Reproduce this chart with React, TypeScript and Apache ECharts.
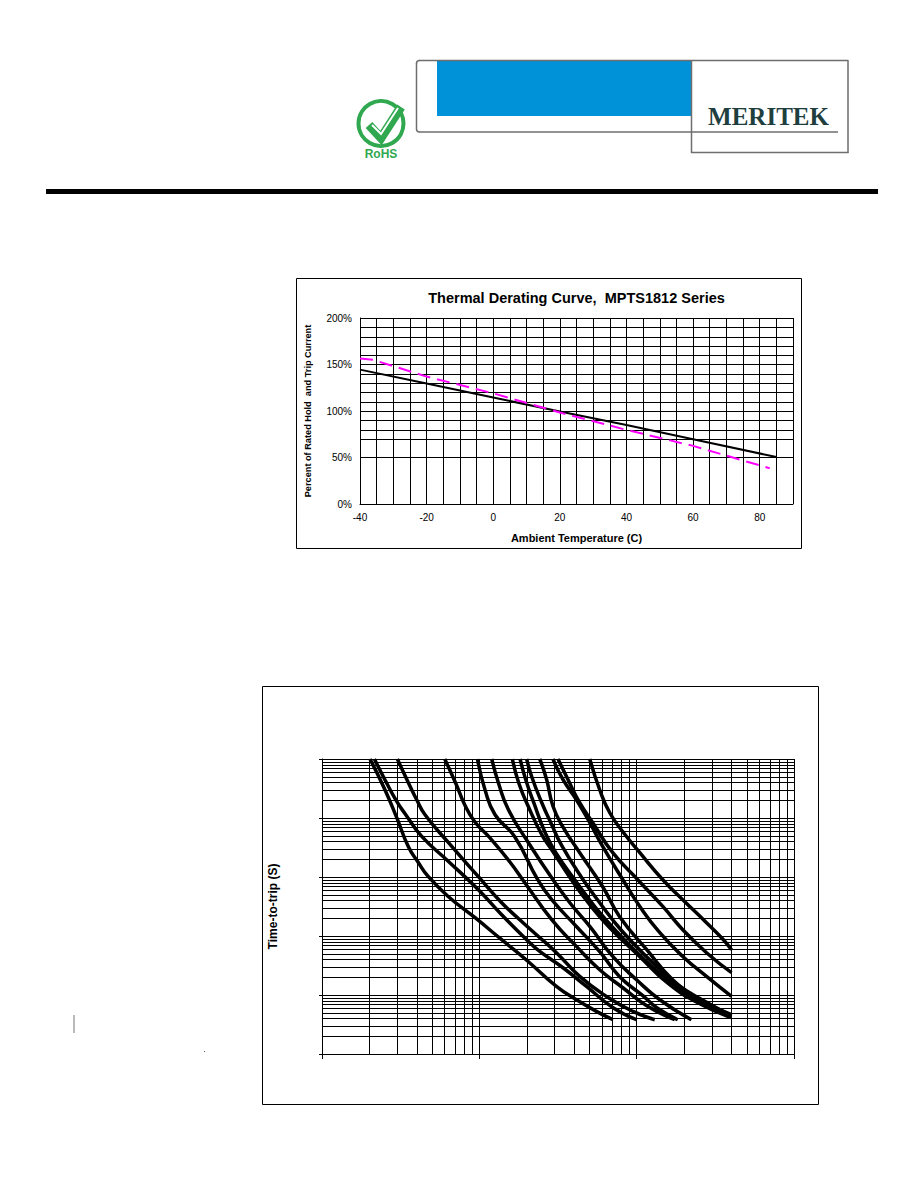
import React, { useEffect, useRef } from "react";
import * as echarts from "echarts";

// ---------- Thermal derating data ----------
const tempHold = [-40, -20, 0, 20, 40, 60, 85];
const holdCurrent = [144.5, 129.6, 114.5, 99.5, 85, 69.7, 50.5];
const tempTrip = [-40, -36, -20, 0, 20, 40, 60, 83];
const tripCurrent = [156.5, 155, 137, 119, 98.4, 79.7, 62.5, 38.4];
const xTickLabels = [-40, -20, 0, 20, 40, 60, 80];
const extraPercentLines = [190, 180, 170, 160, 140, 130, 120, 110, 90, 80, 70];

// ---------- Time-to-trip data: log10(current), log10(time) pairs ----------
const c1x = [-0.695, -0.6, -0.525, -0.451, -0.387, -0.324, -0.196, -0.027, 0.142, 0.312, 0.49, 0.617, 0.744, 0.85];
const c1y = [2, 1.479, 1.005, 0.513, 0.242, 0.005, -0.334, -0.69, -1.063, -1.436, -1.855, -2.08, -2.278, -2.419];
const c2x = [-0.667, -0.6, -0.525, -0.472, -0.366, -0.196, -0.006, 0.142, 0.312, 0.384, 0.532, 0.681, 0.85, 0.999];
const c2y = [2, 1.649, 1.281, 1.073, 0.688, 0.264, -0.216, -0.639, -1.092, -1.261, -1.538, -1.855, -2.216, -2.419];
const c3x = [-0.521, -0.451, -0.398, -0.345, -0.196, -0.006, 0.142, 0.257, 0.363, 0.49, 0.638, 0.808, 0.977, 1.115];
const c3y = [2, 1.598, 1.31, 1.056, 0.581, 0.005, -0.436, -0.724, -0.978, -1.283, -1.685, -2.024, -2.278, -2.419];
const c4x = [-0.22, -0.146, -0.093, -0.029, 0.066, 0.193, 0.289, 0.46, 0.617, 0.765, 0.912, 1.064, 1.242];
const c4y = [2, 1.564, 1.225, 0.937, 0.666, 0.259, -0.097, -0.724, -1.176, -1.572, -1.877, -2.182, -2.419];
const c5x = [-0.012, 0.036, 0.1, 0.225, 0.371, 0.46, 0.617, 0.765, 0.892, 1.039, 1.128, 1.261];
const c5y = [2, 1.479, 1.056, 0.683, -0.046, -0.385, -0.838, -1.266, -1.69, -2.012, -2.216, -2.419];
const c6x = [0.079, 0.121, 0.185, 0.312, 0.468, 0.575, 0.702, 0.848, 0.999, 1.147, 1.348];
const c6y = [2, 1.598, 1.14, 0.581, -0.046, -0.436, -0.838, -1.346, -1.741, -2.08, -2.419];
const c7x = [0.21, 0.25, 0.312, 0.397, 0.46, 0.594, 0.702, 0.829, 1.02, 1.21, 1.401, 1.603];
const c7y = [2, 1.598, 1.191, 0.717, 0.462, -0.08, -0.47, -0.86, -1.351, -1.826, -2.148, -2.385];
const c8x = [0.259, 0.295, 0.346, 0.416, 0.486, 0.625, 0.74, 0.88, 1.051, 1.242, 1.42, 1.603];
const c8y = [2, 1.649, 1.259, 0.767, 0.412, -0.114, -0.521, -0.944, -1.402, -1.843, -2.148, -2.368];
const c9x = [0.301, 0.333, 0.397, 0.46, 0.524, 0.651, 0.765, 0.905, 1.07, 1.261, 1.439, 1.603];
const c9y = [2, 1.7, 1.259, 0.886, 0.53, -0.012, -0.436, -0.911, -1.368, -1.826, -2.114, -2.351];
const c10x = [0.384, 0.428, 0.467, 0.53, 0.638, 0.784, 0.892, 1.064, 1.229, 1.401, 1.603];
const c10y = [2, 1.649, 1.208, 0.852, 0.412, -0.165, -0.673, -1.233, -1.741, -2.08, -2.334];
const c11x = [0.468, 0.532, 0.617, 0.702, 0.784, 0.912, 1.02, 1.147, 1.293, 1.444, 1.603];
const c11y = [2, 1.649, 1.31, 0.92, 0.518, -0.046, -0.499, -0.944, -1.346, -1.685, -2.024];
const c12x = [0.5, 0.564, 0.638, 0.721, 0.848, 1.007, 1.166, 1.293, 1.444, 1.603];
const c12y = [2, 1.649, 1.259, 0.92, 0.412, -0.046, -0.499, -0.894, -1.283, -1.622];
const c13x = [0.702, 0.765, 0.829, 0.912, 1.02, 1.166, 1.293, 1.444, 1.547, 1.603];
const c13y = [2, 1.479, 1.089, 0.767, 0.412, -0.046, -0.385, -0.775, -1.05, -1.233];

const tripCurvesX = [c1x, c2x, c3x, c4x, c5x, c6x, c7x, c8x, c9x, c10x, c11x, c12x, c13x];
const tripCurvesY = [c1y, c2y, c3y, c4y, c5y, c6y, c7y, c8y, c9y, c10y, c11y, c12y, c13y];

const minorMultipliers = [2, 3, 4, 5, 6, 7, 8, 9];
const currentDecades = [0.1, 1, 10];
const timeDecades = [0.001, 0.01, 0.1, 1, 10];

const FONT = "Liberation Sans";

function gridLines(kind: "v" | "h", values: number[], xAxisIndex: number, yAxisIndex: number, other: number) {
  return {
    type: "custom",
    xAxisIndex,
    yAxisIndex,
    silent: true,
    clip: false,
    z: 1,
    animation: false,
    data: values.map((v) => (kind === "v" ? [v, other] : [other, v])),
    renderItem: (params: any, api: any) => {
      const cs = params.coordSys;
      const p = api.coord([api.value(0), api.value(1)]);
      const shape =
        kind === "v"
          ? { x1: Math.round(p[0]) + 0.5, y1: cs.y, x2: Math.round(p[0]) + 0.5, y2: cs.y + cs.height }
          : { x1: cs.x, y1: Math.round(p[1]) + 0.5, x2: cs.x + cs.width, y2: Math.round(p[1]) + 0.5 };
      return { type: "line", shape, style: { stroke: "#000", lineWidth: 1 } };
    },
  };
}

const times = (decades: number[]) =>
  decades.flatMap((d) => minorMultipliers.map((m) => d * m));

function pageGraphics() {
  const grey = "#6e6e6e";
  const green = "#2fa84f";
  const line = (x1: number, y1: number, x2: number, y2: number, stroke = grey, lineWidth = 1.5) => ({
    type: "line",
    shape: { x1, y1, x2, y2 },
    style: { stroke, lineWidth },
    silent: true,
  });
  return [
    { type: "rect", shape: { x: 437, y: 60, width: 255, height: 56 }, style: { fill: "#0092d8" }, silent: true },
    line(419, 60.5, 848, 60.5),
    line(416.5, 63, 416.5, 129),
    line(419, 132, 838, 132),
    { type: "arc", shape: { cx: 419.5, cy: 63.5, r: 3, startAngle: Math.PI, endAngle: Math.PI * 1.5 }, style: { stroke: grey, lineWidth: 1.5, fill: "none" }, silent: true },
    { type: "arc", shape: { cx: 419.5, cy: 129, r: 3, startAngle: Math.PI / 2, endAngle: Math.PI }, style: { stroke: grey, lineWidth: 1.5, fill: "none" }, silent: true },
    line(691.5, 60, 691.5, 153),
    line(691, 152.5, 848.5, 152.5),
    line(848, 60, 848, 153),
    {
      type: "text",
      x: 768.5,
      y: 116,
      style: { text: "MERITEK", font: "bold 25px 'Liberation Serif'", fill: "#1f3f3f", align: "center", verticalAlign: "middle" },
      silent: true,
    },
    { type: "rect", shape: { x: 46, y: 189, width: 832, height: 5 }, style: { fill: "#000" }, silent: true },
    { type: "circle", shape: { cx: 381, cy: 123.5, r: 22.5 }, style: { fill: "#fff", stroke: green, lineWidth: 4 }, silent: true },
    { type: "polyline", shape: { points: [[369, 125], [381, 138], [401, 107]] }, style: { stroke: green, lineWidth: 9, fill: "none" }, silent: true },
    { type: "polyline", shape: { points: [[372, 125], [381, 134], [398, 108]] }, style: { stroke: "#fff", lineWidth: 2, fill: "none" }, silent: true },
    {
      type: "text",
      x: 381,
      y: 154,
      style: { text: "RoHS", font: `bold 12px '${FONT}'`, fill: green, align: "center", verticalAlign: "middle" },
      silent: true,
    },
    { type: "rect", shape: { x: 296.5, y: 278.5, width: 505, height: 270 }, style: { fill: "none", stroke: "#000", lineWidth: 1 }, silent: true, z: -1 },
    { type: "rect", shape: { x: 262.5, y: 686.5, width: 556, height: 418 }, style: { fill: "none", stroke: "#000", lineWidth: 1 }, silent: true, z: -1 },
    line(74, 1015, 74, 1033, "#777", 1),
    { type: "rect", shape: { x: 204, y: 1051, width: 1, height: 1 }, style: { fill: "#555" }, silent: true },
  ];
}

export default function App() {
  const ref = useRef<HTMLDivElement>(null);

  useEffect(() => {
    document.body.style.margin = "0";
    const chart = echarts.init(ref.current!, undefined, { renderer: "svg" });

    const option: any = {
      animation: false,
      backgroundColor: "#fff",
      title: {
        text: "Thermal Derating Curve,  MPTS1812 Series",
        left: 571.5,
        top: 285,
        textAlign: "center",
        textStyle: { fontFamily: FONT, fontWeight: "bold", fontSize: 14.5, color: "#000" },
      },
      graphic: { elements: pageGraphics() },
      grid: [
        { left: 360, top: 318, width: 433, height: 186, containLabel: false },
        { left: 322, top: 759, width: 472, height: 295, containLabel: false },
      ],
      xAxis: [
        {
          type: "value",
          gridIndex: 0,
          min: -40,
          max: 90,
          interval: 5,
          name: "Ambient Temperature (C)",
          nameLocation: "middle",
          nameGap: 28,
          nameTextStyle: { fontFamily: FONT, fontWeight: "bold", fontSize: 11, color: "#000" },
          axisLine: { show: true, onZero: false, lineStyle: { color: "#000", width: 1 } },
          axisTick: { show: false },
          splitLine: { show: true, lineStyle: { color: "#000", width: 1 } },
          axisLabel: {
            margin: 8,
            fontFamily: FONT,
            fontSize: 10,
            color: "#000",
            showMaxLabel: false,
            formatter: (v: number) => (xTickLabels.includes(v) ? String(v) : ""),
          },
        },
        {
          type: "log",
          logBase: 10,
          gridIndex: 1,
          min: 0.1,
          max: 100,
          axisLine: { show: true, onZero: false, lineStyle: { color: "#000", width: 1 } },
          axisTick: { show: true, length: 5, lineStyle: { color: "#000", width: 1 } },
          splitLine: { show: true, lineStyle: { color: "#000", width: 1 } },
          axisLabel: { show: false },
        },
      ],
      yAxis: [
        {
          type: "value",
          gridIndex: 0,
          min: 0,
          max: 200,
          interval: 50,
          name: "Percent of Rated Hold  and Trip Current",
          nameLocation: "middle",
          nameRotate: 90,
          nameGap: 48,
          nameTextStyle: { fontFamily: FONT, fontWeight: "bold", fontSize: 9.2, color: "#000" },
          axisLine: { show: true, onZero: false, lineStyle: { color: "#000", width: 1 } },
          axisTick: { show: false },
          splitLine: { show: true, lineStyle: { color: "#000", width: 1 } },
          axisLabel: { margin: 8, fontFamily: FONT, fontSize: 10, color: "#000", formatter: "{value}%" },
        },
        {
          type: "log",
          logBase: 10,
          gridIndex: 1,
          min: 0.001,
          max: 100,
          name: "Time-to-trip (S)",
          nameLocation: "middle",
          nameRotate: 90,
          nameGap: 43,
          nameTextStyle: { fontFamily: FONT, fontWeight: "bold", fontSize: 12, color: "#000" },
          axisLine: { show: true, onZero: false, lineStyle: { color: "#000", width: 1 } },
          axisTick: { show: true, length: 3, lineStyle: { color: "#000", width: 1 } },
          splitLine: { show: true, lineStyle: { color: "#000", width: 1 } },
          axisLabel: { show: false },
        },
      ],
      series: [
        gridLines("h", extraPercentLines, 0, 0, -40),
        gridLines("v", times(currentDecades), 1, 1, 0.001),
        gridLines("h", times(timeDecades), 1, 1, 0.1),
        {
          type: "line",
          xAxisIndex: 0,
          yAxisIndex: 0,
          name: "Hold",
          showSymbol: false,
          z: 3,
          data: tempHold.map((t, i) => [t, holdCurrent[i]]),
          lineStyle: { color: "#000", width: 2 },
        },
        {
          type: "line",
          xAxisIndex: 0,
          yAxisIndex: 0,
          name: "Trip",
          showSymbol: false,
          z: 4,
          data: tempTrip.map((t, i) => [t, tripCurrent[i]]),
          lineStyle: { color: "#ff00ff", width: 2, type: [13, 7] },
        },
        ...tripCurvesX.map((xs, k) => ({
          type: "line",
          xAxisIndex: 1,
          yAxisIndex: 1,
          showSymbol: false,
          smooth: 0.5,
          z: 3,
          data: xs.map((x, i) => [10 ** x, 10 ** tripCurvesY[k][i]]),
          lineStyle: { color: "#000", width: 3.5 },
        })),
      ],
    };

    chart.setOption(option);
    return () => chart.dispose();
  }, []);

  return <div ref={ref} style={{ width: 918, height: 1188, background: "#fff" }} />;
}
